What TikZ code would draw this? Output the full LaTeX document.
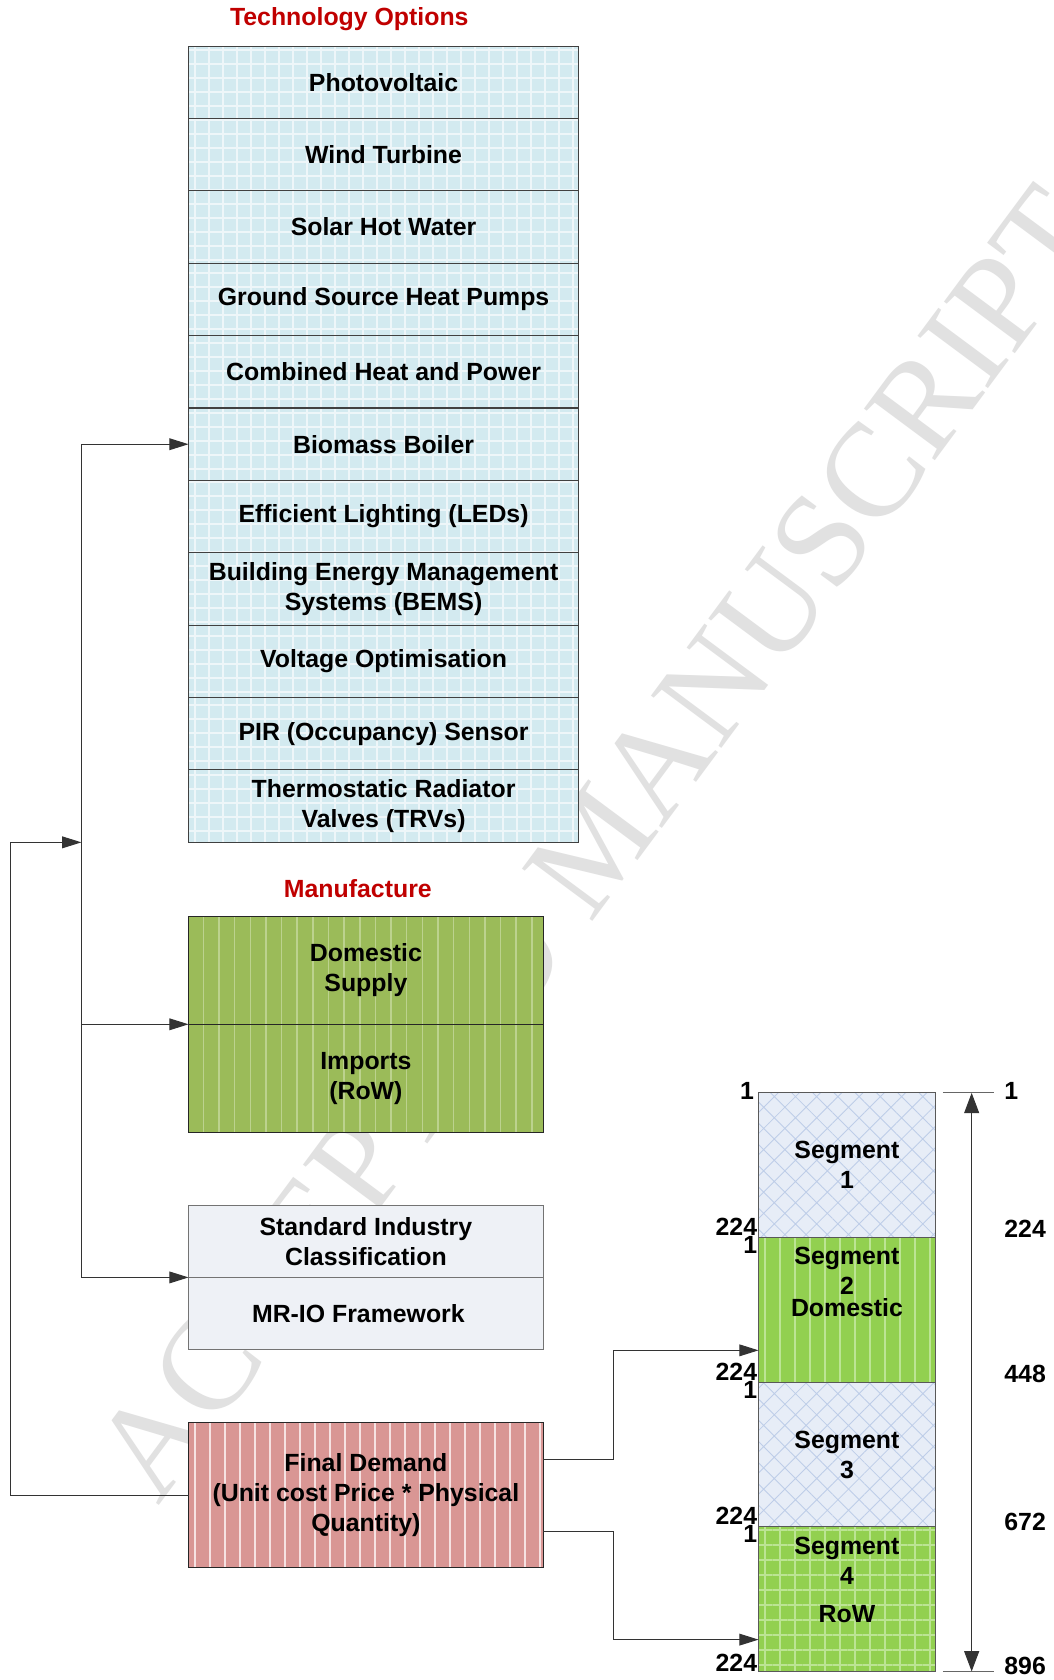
\documentclass[tikz,border=0pt]{standalone}
\usepackage{fontspec}
\setmainfont{Liberation Serif}
\setsansfont{Liberation Sans}
\usetikzlibrary{positioning,calc,arrows.meta,patterns.meta}

\definecolor{techbg}{RGB}{211,234,240}
\definecolor{techln}{RGB}{238,246,249}
\definecolor{mfgbg}{RGB}{155,187,89}
\definecolor{mfgln}{RGB}{188,210,142}
\definecolor{sicbg}{RGB}{238,241,246}
\definecolor{fdbg}{RGB}{217,150,148}
\definecolor{fdln}{RGB}{246,226,226}
\definecolor{seggreen}{RGB}{146,208,80}
\definecolor{segln}{RGB}{188,228,148}
\definecolor{hatchbg}{RGB}{231,237,247}
\definecolor{hatchln}{RGB}{190,205,232}
\definecolor{titlered}{RGB}{192,0,0}
\definecolor{wmgray}{RGB}{225,225,225}

\newcommand{\lblfont}{\sffamily\bfseries\fontsize{11.6}{14}\selectfont}

\tikzset{
  box/.style={draw=black!75, line width=0.5pt, inner sep=0pt, outer sep=0pt, align=center, font=\lblfont},
  techrow/.style={box, minimum width=182pt, minimum height=33.78pt,
    preaction={fill=techbg}, pattern={Hatch[angle=0,distance=6.5pt,line width=0.8pt]}, pattern color=techln},
  mfgrow/.style={box, draw=black!85, minimum width=165.5pt, minimum height=50.5pt,
    preaction={fill=mfgbg}, pattern={Lines[angle=90,distance=7.3pt,line width=0.7pt]}, pattern color=mfgln},
  sicrow/.style={box, draw=black!55, fill=sicbg, minimum width=165.5pt, minimum height=33.75pt},
  fdbox/.style={box, draw=black!85, minimum width=165.5pt, minimum height=67.5pt,
    preaction={fill=fdbg}, pattern={Lines[angle=90,distance=7pt,line width=0.7pt]}, pattern color=fdln},
  segbox/.style={box, draw=black!65, minimum width=82.5pt, minimum height=67.5pt},
  seghatch/.style={segbox, preaction={fill=hatchbg}, pattern={Hatch[angle=45,distance=7pt,line width=0.4pt]}, pattern color=hatchln},
  segstripe/.style={segbox, preaction={fill=seggreen}, pattern={Lines[angle=90,distance=7pt,line width=0.7pt]}, pattern color=segln},
  seggrid/.style={segbox, preaction={fill=seggreen}, pattern={Hatch[angle=0,distance=7pt,line width=0.7pt]}, pattern color=segln},
  heading/.style={font=\lblfont, text=titlered, inner sep=0pt},
  num/.style={font=\lblfont, inner sep=0pt, align=center},
  link/.style={draw=black!80, line width=0.5pt},
  arr/.style={link, -{Triangle[length=9pt,width=5.5pt]}},
}

\begin{document}
\begin{tikzpicture}[x=0.5pt,y=-0.5pt]
\useasboundingbox[fill=white] (0,0) rectangle (983,1568);

% watermark
\node[text=wmgray, font=\fontsize{62.5}{62.5}\selectfont, rotate=53.4] (wm) at (557,787) {ACCEPTED MANUSCRIPT};

% technology options
\node[heading] (techtitle) at (326,18) {Technology Options};
\node[techrow] (pv) at (358,76.8) {Photovoltaic};
\node[techrow, below=0pt of pv]   (wind) {Wind Turbine};
\node[techrow, below=0pt of wind] (shw)  {Solar Hot Water};
\node[techrow, below=0pt of shw]  (gshp) {Ground Source Heat Pumps};
\node[techrow, below=0pt of gshp] (chp)  {Combined Heat and Power};
\node[techrow, below=0pt of chp]  (bio)  {Biomass Boiler};
\node[techrow, below=0pt of bio]  (led)  {Efficient Lighting (LEDs)};
\node[techrow, below=0pt of led]  (bems) {Building Energy Management\\Systems (BEMS)};
\node[techrow, below=0pt of bems] (volt) {Voltage Optimisation};
\node[techrow, below=0pt of volt] (pir)  {PIR (Occupancy) Sensor};
\node[techrow, below=0pt of pir]  (trv)  {Thermostatic Radiator\\Valves (TRVs)};

% manufacture
\node[heading] (mfgtitle) at (334,829) {Manufacture};
\node[mfgrow] (dom) at (341.5,905.5) {Domestic\\Supply};
\node[mfgrow, below=0pt of dom] (imp) {Imports\\(RoW)};

% classification
\node[sicrow] (sic1) at (341.5,1158.5) {Standard Industry\\Classification};
\node[sicrow, below=0pt of sic1] (sic2) {MR-IO Framework\hspace{7pt}};

% final demand
\node[fdbox] (fd) at (341.5,1395.5) {Final Demand\\(Unit cost Price * Physical\\Quantity)};

% segments
\node[seghatch] (seg1) at (790.5,1087.5) {Segment\\1};
\node[segstripe, below=0pt of seg1] (seg2) {};
\node[seghatch, below=0pt of seg2] (seg3) {Segment\\3};
\node[seggrid, below=0pt of seg3] (seg4) {};
\node[num] at ($(seg2.center)+(0,-26)$) {Segment\\2\\[-3.5pt]Domestic};
\node[num] at ($(seg4.center)+(0,-18)$) {Segment\\4\\[4pt]RoW};

% row numbers
\node[num, anchor=east] at ($(seg1.north west)+(-4,-2)$) {1};
\foreach \s in {seg2,seg3,seg4} {
  \node[num, anchor=east] at ($(\s.north west)+(-1,-10)$) {224};
  \node[num, anchor=east] at ($(\s.north west)+(-1,7)$) {1};
}
\node[num, anchor=east] at ($(seg4.south west)+(-1,-8)$) {224};

% cumulative scale
\coordinate (t1) at ($(seg1.north east)+(7,0)$);
\coordinate (t2) at ($(seg1.north east)+(55,0)$);
\coordinate (b1) at ($(seg4.south east)+(7,0)$);
\coordinate (b2) at ($(seg4.south east)+(55,0)$);
\draw[link, draw=black!60] (t1) -- (t2);
\draw[link, draw=black!60] (b1) -- (b2);
\draw[link, {Triangle[length=9.5pt,width=7pt]}-{Triangle[length=9.5pt,width=7pt]}]
  ($(t1)!0.56!(t2)$) -- ($(b1)!0.56!(b2)$);
\node[num, anchor=west] at ($(seg1.north east)+(64,-2)$) {1};
\node[num, anchor=west] at ($(seg2.north east)+(64,-8)$) {224};
\node[num, anchor=west] at ($(seg3.north east)+(64,-8)$) {448};
\node[num, anchor=west] at ($(seg4.north east)+(64,-5)$) {672};
\node[num, anchor=west] at ($(seg4.south east)+(64,-5)$) {896};

% connectors
\coordinate (bus) at (76,0);
\coordinate (loop) at (10,0);
\coordinate (split) at (573,0);
\draw[link] (bus |- bio.west) -- (bus |- sic1.south);
\draw[arr] (bus |- bio.west) -- (bio.west);
\draw[arr] (bus |- dom.south west) -- (dom.south west);
\draw[arr] (bus |- sic1.south west) -- (sic1.south west);
\draw[arr] (fd.west) -| (loop |- trv.south) -- (bus |- trv.south);

\coordinate (fdout1) at ($(fd.north east)!0.25!(fd.south east)$);
\coordinate (fdout2) at ($(fd.north east)!0.75!(fd.south east)$);
\coordinate (in2) at ($(seg2.north west)!0.78!(seg2.south west)$);
\coordinate (in4) at ($(seg4.north west)!0.78!(seg4.south west)$);
\draw[arr] (fdout1) -| (split |- in2) -- (in2);
\draw[arr] (fdout2) -| (split |- in4) -- (in4);
\end{tikzpicture}
\end{document}
